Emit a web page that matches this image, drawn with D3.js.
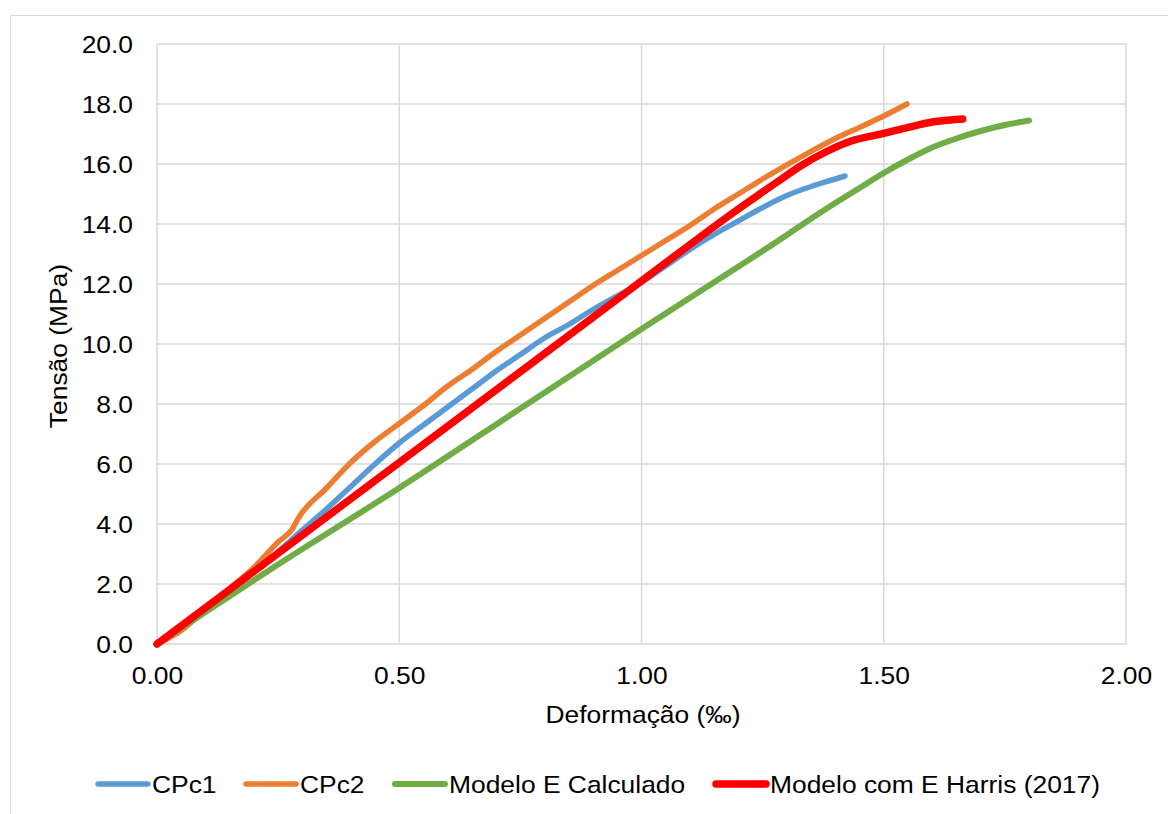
<!DOCTYPE html>
<html>
<head>
<meta charset="utf-8">
<script src="https://cdn.jsdelivr.net/npm/d3@7"></script>
<style>
html,body{margin:0;padding:0;background:#fff;}
svg{display:block;font-family:"Liberation Sans",Arial,sans-serif;}
</style>
</head>
<body>
<svg id="chart" width="1168" height="814"></svg>
<script>
// ---- data ----
const strainCPc1 = [0,0.05,0.10,0.15,0.20,0.25,0.30,0.35,0.40,0.45,0.50,0.55,0.60,0.65,0.70,0.75,0.80,0.85,0.90,0.95,1.00,1.05,1.10,1.15,1.20,1.25,1.30,1.35,1.40,1.42];
const stressCPc1 = [0,0.62,1.22,1.82,2.45,3.08,3.8,4.5,5.25,6.0,6.7,7.3,7.9,8.5,9.1,9.65,10.2,10.65,11.15,11.6,12.05,12.6,13.15,13.65,14.1,14.55,14.95,15.25,15.5,15.6];

const strainCPc2 = [0,0.05,0.10,0.15,0.20,0.25,0.28,0.29,0.35,0.40,0.45,0.50,0.55,0.60,0.65,0.70,0.75,0.80,0.85,0.90,0.95,1.00,1.05,1.10,1.15,1.20,1.25,1.30,1.35,1.40,1.45,1.50,1.548];
const stressCPc2 = [0,0.45,1.15,1.85,2.55,3.4,3.85,4.15,5.2,6.05,6.75,7.35,7.95,8.6,9.15,9.75,10.3,10.85,11.4,11.95,12.45,12.95,13.45,13.95,14.5,15.0,15.5,15.97,16.42,16.85,17.22,17.6,18.0];

const strainModelE = [0,0.25,0.50,0.75,1.00,1.25,1.40,1.45,1.50,1.55,1.60,1.65,1.70,1.75,1.80];
const stressModelE = [0,2.65,5.2,7.85,10.5,13.1,14.7,15.2,15.7,16.15,16.55,16.85,17.1,17.3,17.45];

const strainHarris = [0,0.50,1.00,1.20,1.28,1.33,1.38,1.43,1.50,1.55,1.60,1.663];
const stressHarris = [0,6.05,12.1,14.5,15.4,15.95,16.4,16.75,17.02,17.22,17.4,17.5];

const seriesNames = ["CPc1","CPc2","Modelo E Calculado","Modelo com E Harris (2017)"];
const xTicks = [0,0.5,1.0,1.5,2.0];
const yTicks = [0,2,4,6,8,10,12,14,16,18,20];
const xTitle = "Deformação (‰)";
const yTitle = "Tensão (MPa)";

// ---- styles ----
const colors = ["#5B9BD5","#ED7D31","#70AD47","#FF0000"];
const widths = [5.5,5.5,6,7.5];
const FS = 24, SX = 1.1;

const svg = d3.select("#chart");
const x = d3.scaleLinear().domain([0,2]).range([157,1126]);
const y = d3.scaleLinear().domain([0,20]).range([644,44]);

// outer border
svg.append("rect").attr("x",10.5).attr("y",15.5).attr("width",1180).attr("height",820)
  .attr("fill","none").attr("stroke","#D9D9D9").attr("stroke-width",1);

// gridlines
const grid = svg.append("g");
grid.selectAll("line.h").data(yTicks).join("line")
  .attr("x1",x(0)).attr("x2",x(2)).attr("y1",d=>y(d)).attr("y2",d=>y(d))
  .attr("stroke","#D9D9D9").attr("stroke-width",1.5);
grid.selectAll("line.v").data(xTicks).join("line")
  .attr("y1",y(0)).attr("y2",y(20)).attr("x1",d=>x(d)).attr("x2",d=>x(d))
  .attr("stroke","#D9D9D9").attr("stroke-width",1.5);

// axes (labels only)
const yAxis = svg.append("g").attr("transform",`translate(${x(0)},0)`)
  .call(d3.axisLeft(y).tickValues(yTicks).tickFormat(d3.format(".1f")).tickSize(0).tickPadding(0));
yAxis.select(".domain").remove();
yAxis.selectAll("text").attr("x",-24/SX).attr("dy","0.35em")
  .attr("transform",`scale(${SX},1)`).attr("font-size",FS).attr("font-family","Liberation Sans, Arial, sans-serif").attr("fill","#000");

const xAxis = svg.append("g").attr("transform",`translate(0,${y(0)})`)
  .call(d3.axisBottom(x).tickValues(xTicks).tickFormat(d3.format(".2f")).tickSize(0).tickPadding(0));
xAxis.select(".domain").remove();
xAxis.selectAll("text").attr("y",40).attr("dy",0)
  .attr("transform",`scale(${SX},1)`).attr("font-size",FS).attr("font-family","Liberation Sans, Arial, sans-serif").attr("fill","#000");

// titles
svg.append("g").attr("transform",`translate(643,723) scale(${SX},1)`)
  .append("text").attr("text-anchor","middle").attr("font-size",FS).attr("fill","#000").text(xTitle);
svg.append("g").attr("transform",`translate(67,346) rotate(-90) scale(${SX},1)`)
  .append("text").attr("text-anchor","middle").attr("font-size",FS).attr("fill","#000").text(yTitle);

// series
const datasets = [
  d3.zip(strainCPc1,stressCPc1),
  d3.zip(strainCPc2,stressCPc2),
  d3.zip(strainModelE,stressModelE),
  d3.zip(strainHarris,stressHarris)
];
const line = d3.line().x(d=>x(d[0])).y(d=>y(d[1])).curve(d3.curveMonotoneX);
svg.append("g").selectAll("path").data(datasets).join("path")
  .attr("d",line).attr("fill","none")
  .attr("stroke",(d,i)=>colors[i]).attr("stroke-width",(d,i)=>widths[i])
  .attr("stroke-linecap","round").attr("stroke-linejoin","round");

// legend
const legX = [95,243,392,713];
const leg = svg.append("g");
seriesNames.forEach((name,i)=>{
  leg.append("line").attr("x1",legX[i]+3).attr("x2",legX[i]+53).attr("y1",784).attr("y2",784)
    .attr("stroke",colors[i]).attr("stroke-width",widths[i]).attr("stroke-linecap","round");
  leg.append("g").attr("transform",`translate(${legX[i]+57},792.5) scale(${SX},1)`)
    .append("text").attr("font-size",FS).attr("fill","#000").text(name);
});
</script>
</body>
</html>
